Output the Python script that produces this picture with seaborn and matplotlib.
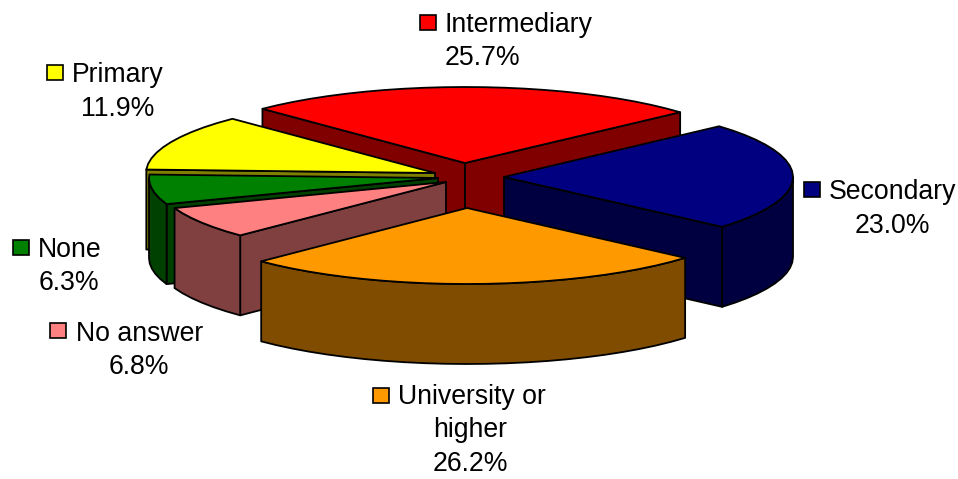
import numpy as np
import matplotlib
matplotlib.use("Agg")
import matplotlib.pyplot as plt
from matplotlib.patches import Polygon, Rectangle
import seaborn as sns

# data, clockwise from the red slice
labels = ["Intermediary", "Secondary", "University or\nhigher", "No answer", "None", "Primary"]
values = [25.7, 23.0, 26.2, 6.8, 6.3, 11.9]
colors = ["#FF0000", "#000080", "#FF9900", "#FF8080", "#008000", "#FFFF00"]

# layout in pixels, the figure is 958x479
cx, cy = 468, 185
rx, ry = 289, 76
depth = 80
start_angle = -44.5
explode_dx = [-3, 36, -1, -22, -30, -33]
explode_dy = [-22, -8, 23, -3, -7, -12]
draw_order = [0, 5, 1, 4, 3, 2]  # back to front

key_x = [420, 804, 373, 50, 13, 47]
key_y = [15, 182, 388, 323, 240, 65]
name_x = [445, 829, 398, 76, 38, 72]
name_y = [25, 192, 397, 334, 250, 75]
pct_x = [482, 892, 470, 139, 69, 118]
pct_y = [58, 226, 464, 367, 283, 109]

sns.set_theme(style="white")
plt.rcParams["font.family"] = ["Liberation Sans", "DejaVu Sans"]
palette = sns.color_palette(colors)
dark = [tuple(c * 0.5 for c in col) for col in palette]

fig = plt.figure(figsize=(9.58, 4.79), dpi=100)
ax = fig.add_axes([0, 0, 1, 1])
ax.set_xlim(0, 958)
ax.set_ylim(479, 0)
ax.axis("off")

total = sum(values)
edges = start_angle + np.cumsum([0] + values) / total * 360


def point(x0, y0, ang):
    t = np.radians(ang)
    return x0 + rx * np.sin(t), y0 - ry * np.cos(t)


def arc(x0, y0, a0, a1):
    angs = np.linspace(a0, a1, max(int(abs(a1 - a0) / 4), 2) + 1)
    return [point(x0, y0, a) for a in angs]


def add(pts, col, lw=1.3):
    ax.add_patch(Polygon(pts, closed=True, facecolor=col, edgecolor="black",
                         linewidth=lw, joinstyle="round"))


def wall(x0, y0, ang, col):
    px, py = point(x0, y0, ang)
    add([(x0, y0), (px, py), (px, py + depth), (x0, y0 + depth)], col)


for i in draw_order:
    a0, a1 = edges[i], edges[i + 1]
    x0 = cx + explode_dx[i]
    y0 = cy + explode_dy[i]
    # side walls that face the viewer
    if np.sin(np.radians(a0)) < 0:
        wall(x0, y0, a0, dark[i])
    if np.sin(np.radians(a1)) > 0:
        wall(x0, y0, a1, dark[i])
    # outer rim, only the front half shows
    lo, hi = max(a0, 90), min(a1, 270)
    if hi > lo:
        top = arc(x0, y0, lo, hi)
        bottom = [(x, y + depth) for x, y in top]
        add(top + bottom[::-1], dark[i])
    # top face
    add([(x0, y0)] + arc(x0, y0, a0, a1), palette[i])

# labels
for i in range(len(labels)):
    ax.add_patch(Rectangle((key_x[i], key_y[i]), 16, 15, facecolor=palette[i],
                           edgecolor="black", linewidth=1.2))
    name = labels[i].split("\n")
    ax.text(name_x[i], name_y[i], name[0], fontsize=19.2, color="black",
            ha="left", va="center")
    if len(name) > 1:
        ax.text(pct_x[i], name_y[i] + 33, name[1], fontsize=19.2, color="black",
                ha="center", va="center")
    ax.text(pct_x[i], pct_y[i], "%.1f%%" % values[i], fontsize=19.2, color="black",
            ha="center", va="center")

plt.savefig("out.png", dpi=100)
